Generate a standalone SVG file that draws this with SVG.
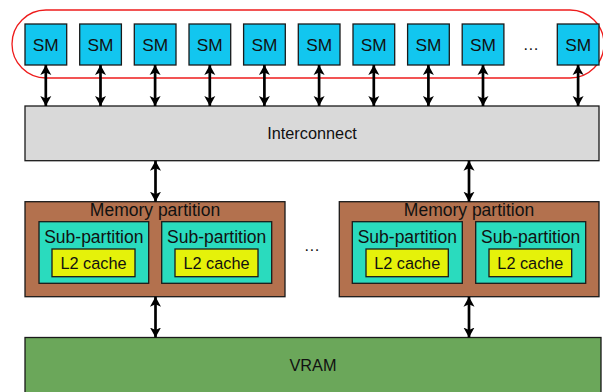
<svg xmlns="http://www.w3.org/2000/svg" width="603" height="392" viewBox="0 0 603 392">
<style>
text{font-family:"Liberation Sans",Arial,sans-serif;fill:#111;text-anchor:middle}
.sm{fill:#12c6ef;stroke:#1a1a1a;stroke-width:1.3}
.ic{fill:#d9d9d9;stroke:#1a1a1a;stroke-width:1.3}
.mp{fill:#b3714e;stroke:#1a1a1a;stroke-width:1.3}
.sp{fill:#2adbbe;stroke:#1a1a1a;stroke-width:1.3}
.l2{fill:#e5f20a;stroke:#1a1a1a;stroke-width:1.3}
.vr{fill:#6ba75a;stroke:#1a1a1a;stroke-width:1.3}
.a{stroke:#000;stroke-width:2.7;fill:none;marker-start:url(#h);marker-end:url(#h)}
.t17{font-size:17.3px}
.t175{font-size:17.5px}
.t16{font-size:16.3px}
</style>
<defs>
<marker id="h" viewBox="0 0 10 12" refX="10" refY="6" markerWidth="10" markerHeight="12" markerUnits="userSpaceOnUse" orient="auto-start-reverse">
<path d="M0,0.5 L10,6 L0,11.5 L2.5,6 z" fill="#000"/>
</marker>
</defs>
<rect id="sm-group" x="12" y="10" width="592" height="68" rx="34" ry="34" fill="none" stroke="#ee1c1c" stroke-width="1.3"/>
<g id="sm1"><rect class="sm" x="25" y="24" width="41.7" height="41"/><text class="t17" x="45.8" y="51">SM</text></g>
<g id="sm2"><rect class="sm" x="79.7" y="24" width="41.7" height="41"/><text class="t17" x="100.5" y="51">SM</text></g>
<g id="sm3"><rect class="sm" x="134.3" y="24" width="41.7" height="41"/><text class="t17" x="155.1" y="51">SM</text></g>
<g id="sm4"><rect class="sm" x="189" y="24" width="41.7" height="41"/><text class="t17" x="209.8" y="51">SM</text></g>
<g id="sm5"><rect class="sm" x="243.6" y="24" width="41.7" height="41"/><text class="t17" x="264.4" y="51">SM</text></g>
<g id="sm6"><rect class="sm" x="298.3" y="24" width="41.7" height="41"/><text class="t17" x="319.1" y="51">SM</text></g>
<g id="sm7"><rect class="sm" x="353" y="24" width="41.7" height="41"/><text class="t17" x="373.8" y="51">SM</text></g>
<g id="sm8"><rect class="sm" x="407.6" y="24" width="41.7" height="41"/><text class="t17" x="428.4" y="51">SM</text></g>
<g id="sm9"><rect class="sm" x="462.2" y="24" width="41.7" height="41"/><text class="t17" x="483" y="51">SM</text></g>
<text id="sm-dots" class="t16" x="531" y="50" fill="#333">…</text>
<g id="sm10"><rect class="sm" x="557.3" y="24" width="41.7" height="41"/><text class="t17" x="578.1" y="51">SM</text></g>
<g id="interconnect"><rect class="ic" x="25" y="106" width="574" height="54.7"/><text class="t16" x="312" y="139">Interconnect</text></g>
<g id="mp1">
<rect class="mp" x="25" y="201.7" width="260" height="95"/>
<text class="t175" x="155" y="215.7">Memory partition</text>
<g id="mp1-sp1"><rect class="sp" x="39" y="221.7" width="109.7" height="61.6"/><text class="t175" x="93.8" y="242.7">Sub-partition</text>
<g id="mp1-l2a"><rect class="l2" x="52" y="249" width="83" height="27.7"/><text class="t16" x="93.5" y="269">L2 cache</text></g></g>
<g id="mp1-sp2"><rect class="sp" x="161.7" y="221.7" width="110" height="61.6"/><text class="t175" x="216.7" y="242.7">Sub-partition</text>
<g id="mp1-l2b"><rect class="l2" x="175" y="249" width="83" height="27.7"/><text class="t16" x="216.5" y="269">L2 cache</text></g></g>
</g>
<text id="mp-dots" class="t16" x="312" y="251" fill="#333">…</text>
<g id="mp2">
<rect class="mp" x="339.3" y="201.7" width="259.7" height="95"/>
<text class="t175" x="469" y="215.7">Memory partition</text>
<g id="mp2-sp1"><rect class="sp" x="352.3" y="221.7" width="110" height="61.6"/><text class="t175" x="407.3" y="242.7">Sub-partition</text>
<g id="mp2-l2a"><rect class="l2" x="366" y="249" width="82.3" height="27.7"/><text class="t16" x="407.2" y="269">L2 cache</text></g></g>
<g id="mp2-sp2"><rect class="sp" x="475.7" y="221.7" width="110" height="61.6"/><text class="t175" x="530.7" y="242.7">Sub-partition</text>
<g id="mp2-l2b"><rect class="l2" x="489" y="249" width="82.7" height="27.7"/><text class="t16" x="530.4" y="269">L2 cache</text></g></g>
</g>
<g id="vram"><rect class="vr" x="25" y="337.5" width="576" height="70"/><text class="t16" x="313" y="371">VRAM</text></g>
<g id="connectors">
<path class="a" d="M45.8,65 V106"/>
<path class="a" d="M100.5,65 V106"/>
<path class="a" d="M155.1,65 V106"/>
<path class="a" d="M209.8,65 V106"/>
<path class="a" d="M264.4,65 V106"/>
<path class="a" d="M319.1,65 V106"/>
<path class="a" d="M373.8,65 V106"/>
<path class="a" d="M428.4,65 V106"/>
<path class="a" d="M483,65 V106"/>
<path class="a" d="M578.1,65 V106"/>
<path class="a" d="M155.5,160.7 V201.7"/>
<path class="a" d="M469,160.7 V201.7"/>
<path class="a" d="M155.5,296.7 V337.5"/>
<path class="a" d="M469,296.7 V337.5"/>
</g>
</svg>
